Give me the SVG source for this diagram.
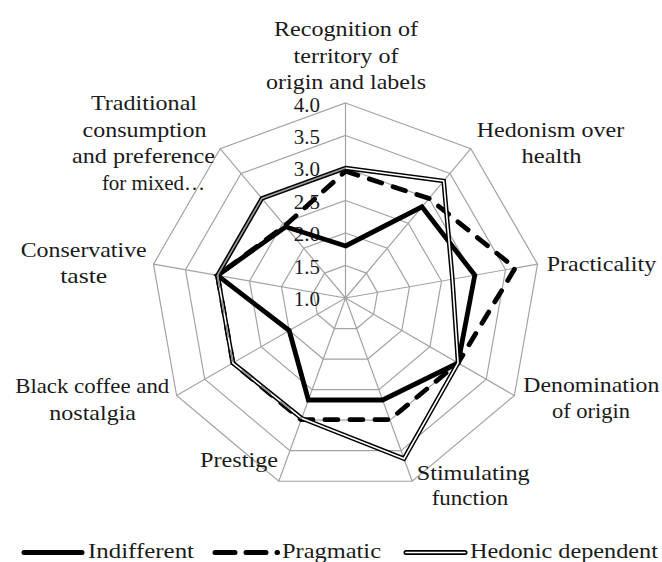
<svg xmlns="http://www.w3.org/2000/svg" width="662" height="562" viewBox="0 0 662 562">
<style>
.grid{fill:none;stroke:#a3a3a3;stroke-width:1.2}
.lbl{font-family:"Liberation Serif","Times New Roman",serif;font-size:21px;fill:#1a1a1a}
.tick{font-family:"Liberation Serif","Times New Roman",serif;font-size:21px;fill:#1a1a1a;text-anchor:end}
.mid{text-anchor:middle}
.end{text-anchor:end}
.ind{fill:none;stroke:#000;stroke-width:4.8;stroke-linejoin:miter}
.prag{fill:none;stroke:#000;stroke-width:4.8;stroke-dasharray:13 12;stroke-linecap:round}
.hedo{fill:none;stroke:#000;stroke-width:4.6}
.hedi{fill:none;stroke:#fff;stroke-width:1.6}
</style>
<rect width="662" height="562" fill="#fff"/>
<g id="grid">
<polygon class="grid" points="345.5,103 470.85,148.63 537.54,264.14 514.37,395.5 412.19,481.24 278.81,481.24 176.63,395.5 153.46,264.14 220.15,148.63"/>
<polygon class="grid" points="345.5,135.5 449.96,173.52 505.53,269.78 486.23,379.25 401.08,450.7 289.92,450.7 204.77,379.25 185.47,269.78 241.04,173.52"/>
<polygon class="grid" points="345.5,168 429.07,198.42 473.52,275.43 458.08,363 389.96,420.16 301.04,420.16 232.92,363 217.48,275.43 261.93,198.42"/>
<polygon class="grid" points="345.5,200.5 408.18,223.31 441.52,281.07 429.94,346.75 378.85,389.62 312.15,389.62 261.06,346.75 249.48,281.07 282.82,223.31"/>
<polygon class="grid" points="345.5,233 387.28,248.21 409.51,286.71 401.79,330.5 367.73,359.08 323.27,359.08 289.21,330.5 281.49,286.71 303.72,248.21"/>
<polygon class="grid" points="345.5,265.5 366.39,273.1 377.51,292.36 373.65,314.25 356.62,328.54 334.38,328.54 317.35,314.25 313.49,292.36 324.61,273.1"/>
<path class="grid" d="M345.5,298L345.5,103M345.5,298L470.85,148.63M345.5,298L537.54,264.14M345.5,298L514.37,395.5M345.5,298L412.19,481.24M345.5,298L278.81,481.24M345.5,298L176.63,395.5M345.5,298L153.46,264.14M345.5,298L220.15,148.63"/>
</g>
<g id="ticks">
<text class="tick" x="320" y="306">1.0</text>
<text class="tick" x="320" y="273.5">1.5</text>
<text class="tick" x="320" y="241">2.0</text>
<text class="tick" x="320" y="208.5">2.5</text>
<text class="tick" x="320" y="176">3.0</text>
<text class="tick" x="320" y="143.5">3.5</text>
<text class="tick" x="320" y="111.5">4.0</text>
</g>
<g id="series">
<polygon id="indifferent" class="ind" points="345.5,246 421.96,206.88 474.8,275.21 458.08,363 382.62,400 308.38,400 289.21,330.5 217.48,275.43 285.75,226.8"/>
<polygon id="pragmatic" class="prag" points="345.5,171.25 429.07,198.42 515.13,268.1 458.08,363 389.79,419.69 301.21,419.69 232.92,363 217.48,275.43 284.92,225.8"/>
<g id="hedonic">
<polygon class="hedo" points="345.5,168 443.69,180.99 452.4,279.16 458.08,363 403.98,458.69 301.72,418.28 232.92,363 217.48,275.43 261.93,198.42"/>
<polyline class="hedi" points="301.72,418.28 403.98,458.69 458.08,363 452.4,279.16 443.69,180.99 345.5,168"/>
<polyline fill="none" stroke="#9a9a9a" stroke-width="1.6" points="345.5,168 261.93,198.42 217.48,275.43"/>
<polyline fill="none" stroke="#fff" stroke-width="1.6" points="217.48,275.43 232.92,363 301.72,418.28"/>
<polyline fill="none" stroke="#8a8a8a" stroke-width="1.6" stroke-dasharray="13 12" points="217.48,275.43 232.92,363 301.72,418.28"/>
</g>
</g>
<g id="labels">
<text class="lbl mid" x="346" y="36" textLength="144" lengthAdjust="spacingAndGlyphs">Recognition of</text>
<text class="lbl mid" x="346" y="62.5" textLength="105" lengthAdjust="spacingAndGlyphs">territory of</text>
<text class="lbl mid" x="346" y="89" textLength="160" lengthAdjust="spacingAndGlyphs">origin and labels</text>
<text class="lbl mid" x="550.5" y="136.7" textLength="147.6" lengthAdjust="spacingAndGlyphs">Hedonism over</text>
<text class="lbl mid" x="551.5" y="163.3" textLength="60" lengthAdjust="spacingAndGlyphs">health</text>
<text class="lbl" x="546.7" y="271" textLength="109.5" lengthAdjust="spacingAndGlyphs">Practicality</text>
<text class="lbl mid" x="591.3" y="391.7" textLength="136" lengthAdjust="spacingAndGlyphs">Denomination</text>
<text class="lbl mid" x="591" y="418.3" textLength="78" lengthAdjust="spacingAndGlyphs">of origin</text>
<text class="lbl" x="416.7" y="480" textLength="113" lengthAdjust="spacingAndGlyphs">Stimulating</text>
<text class="lbl" x="431.7" y="505" textLength="76.6" lengthAdjust="spacingAndGlyphs">function</text>
<text class="lbl end" x="278" y="467" textLength="78" lengthAdjust="spacingAndGlyphs">Prestige</text>
<text class="lbl mid" x="92.2" y="393.3" textLength="154" lengthAdjust="spacingAndGlyphs">Black coffee and</text>
<text class="lbl mid" x="92.7" y="420" textLength="86.7" lengthAdjust="spacingAndGlyphs">nostalgia</text>
<text class="lbl mid" x="83.7" y="256.7" textLength="126" lengthAdjust="spacingAndGlyphs">Conservative</text>
<text class="lbl mid" x="83.7" y="283.3" textLength="47" lengthAdjust="spacingAndGlyphs">taste</text>
<text class="lbl mid" x="144" y="110" textLength="106" lengthAdjust="spacingAndGlyphs">Traditional</text>
<text class="lbl mid" x="144.5" y="136.7" textLength="124" lengthAdjust="spacingAndGlyphs">consumption</text>
<text class="lbl mid" x="143.5" y="163.3" textLength="143" lengthAdjust="spacingAndGlyphs">and preference</text>
<text class="lbl mid" x="153.5" y="190">for mixed…</text>
</g>
<g id="legend">
<line x1="24" y1="552.5" x2="82" y2="552.5" stroke="#000" stroke-width="5" stroke-linecap="round"/>
<text class="lbl" x="88" y="557.5" textLength="106" lengthAdjust="spacingAndGlyphs">Indifferent</text>
<line x1="215" y1="552.5" x2="277.5" y2="552.5" stroke="#000" stroke-width="5" stroke-linecap="round" stroke-dasharray="20 11"/>
<text class="lbl" x="282" y="557.5" textLength="99" lengthAdjust="spacingAndGlyphs">Pragmatic</text>
<line x1="406" y1="552.5" x2="465" y2="552.5" stroke="#000" stroke-width="5" stroke-linecap="round"/>
<line x1="406" y1="552.5" x2="465" y2="552.5" stroke="#fff" stroke-width="1.7" stroke-linecap="round"/>
<text class="lbl" x="470" y="557.5" textLength="188" lengthAdjust="spacingAndGlyphs">Hedonic dependent</text>
</g>
</svg>
